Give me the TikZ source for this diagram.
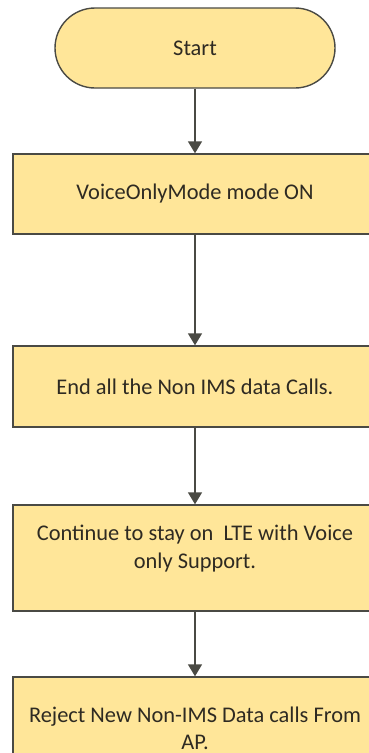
\documentclass[tikz,border=0pt]{standalone}
\usepackage{fontspec}
\setmainfont{Carlito}
\usetikzlibrary{arrows.meta,calc}
\definecolor{boxfill}{HTML}{FFE699}
\definecolor{boxline}{HTML}{4A4A44}
\definecolor{inkcol}{HTML}{2E2A22}
\tikzset{
  x=1pt, y=-1pt,
  shape base/.style={draw=boxline, fill=boxfill, line width=1.4pt},
  terminal/.style={shape base, rectangle, rounded corners=40pt,
    minimum width=280pt, minimum height=80pt, inner sep=0pt},
  procbox/.style={shape base, rectangle, minimum width=364pt, inner sep=0pt},
  txt/.style={text=inkcol, font=\fontsize{22.4}{28}\selectfont, align=center, inner sep=0pt},
  flow/.style={draw=boxline, line width=1.4pt, -{Triangle[width=14pt,length=12pt]}}
}
\begin{document}
\begin{tikzpicture}
\useasboundingbox (0,0) rectangle (369,753);
\fill[white] (0,0) rectangle (369,753);

% start terminal
\node[terminal, txt] (start) at (195,48) {Start};

% process steps
\node[procbox, minimum height=80pt] (s1) at (195,194) {};
\node[txt] (t1) at (s1.center) {VoiceOnlyMode mode ON};

\node[procbox, minimum height=81pt] (s2) at (195,386.5) {};
\node[txt] (t2) at (s2.center) {End all the Non IMS data Calls.};

\node[procbox, minimum height=106pt] (s3) at (195,558) {};
\node[txt, anchor=north] (t3) at ($(s3.north)+(0,20)$) {Continue to stay on\ \ LTE with Voice\\only Support.};

\node[procbox, minimum height=100pt] (s4) at (195,727) {};
\node[txt, anchor=north, font=\fontsize{22.4}{27}\selectfont] (t4) at ($(s4.north)+(0,30)$) {Reject New Non-IMS Data calls From\\AP.};

% connectors
\draw[flow] (start.south) -- (s1.north);
\draw[flow] (s1.south) -- (s2.north);
\draw[flow] (s2.south) -- (s3.north);
\draw[flow] (s3.south) -- (s4.north);
\end{tikzpicture}
\end{document}
